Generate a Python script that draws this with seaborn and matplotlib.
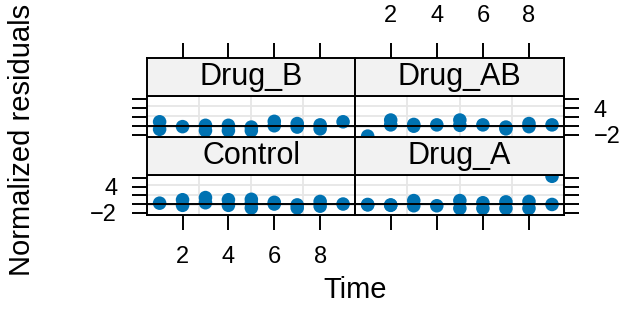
import matplotlib
matplotlib.use("Agg")
import matplotlib.pyplot as plt
import seaborn as sns
import pandas as pd

plt.rcParams['font.family'] = ['Liberation Sans', 'DejaVu Sans']

# ---- data ----
groups = ["Control", "Drug_A", "Drug_B", "Drug_AB"]
time_control = [1, 2, 2, 3, 3, 4, 4, 5, 5, 5, 6, 6, 7, 7, 8, 8, 9]
res_control = [0.2, 1.0, -0.3, 1.5, 0.3, 1.0, -0.3, 1.1, 0.2, -0.9, 0.4, 0.0, -0.2, -0.9, 0.6, -0.5, 0.0]
time_drug_a = [1, 1, 2, 2, 3, 3, 4, 5, 5, 6, 6, 7, 7, 8, 8, 9, 9]
res_drug_a = [-0.2, -0.1, -0.2, -0.3, 0.8, -0.4, -0.4, 0.8, -1.0, 0.3, -1.0, 0.5, -1.0, 0.6, -1.0, -0.1, 6.45]
time_drug_b = [1, 1, 2, 3, 3, 4, 4, 5, 5, 6, 6, 7, 7, 8, 8, 9]
res_drug_b = [0.9, -0.8, -0.2, 0.1, -1.1, 0.1, -1.1, -0.3, -1.1, 1.0, 0.0, 0.5, -0.3, 0.2, -0.7, 0.9]
time_drug_ab = [1, 2, 2, 3, 3, 4, 5, 5, 6, 7, 7, 8, 8, 9]
res_drug_ab = [-2.35, 1.3, 0.2, 0.3, -0.1, 0.2, 1.3, 0.1, 0.2, -0.3, -0.7, 0.5, -0.2, 0.2]

x_ticks = [2, 4, 6, 8]
y_ticks = [-2, 0, 2, 4, 6]
y_ticklabels = ["\u22122", "", "", "4", ""]

data = {
    "Control": (time_control, res_control),
    "Drug_A": (time_drug_a, res_drug_a),
    "Drug_B": (time_drug_b, res_drug_b),
    "Drug_AB": (time_drug_ab, res_drug_ab),
}

# ---- layout ----
W, H = 627, 321
fig = plt.figure(figsize=(W / 100, H / 100), dpi=100)


def rect(x0, y0, x1, y1):
    return [x0 / W, 1 - y1 / H, (x1 - x0) / W, (y1 - y0) / H]


cols = [(147, 355), (355, 564)]
rows = {"top": ((58, 96), (96, 137)), "bottom": ((137, 175), (175, 215))}
placement = {"Control": (0, "bottom"), "Drug_A": (1, "bottom"),
             "Drug_B": (0, "top"), "Drug_AB": (1, "top")}

XLIM = (0.45, 9.52)
YLIM = (-2.55, 6.75)
BLUE = "#0072B2"
LW = 1.4
TICKLEN = 10.5
TICKFS = 17

for g in groups:
    ci, ri = placement[g]
    x0, x1 = cols[ci]
    (s0, s1), (p0, p1) = rows[ri]

    # panel
    ax = fig.add_axes(rect(x0, p0, x1, p1))
    t, r = data[g]
    df = pd.DataFrame({"Time": t, "Residual": r})
    for k in range(1, 4):
        ax.axvline(XLIM[0] + k * (XLIM[1] - XLIM[0]) / 4, color="#E6E6E6", lw=1.3, zorder=0)
        ax.axhline(YLIM[0] + k * (YLIM[1] - YLIM[0]) / 4, color="#E6E6E6", lw=1.3, zorder=0)
    sns.scatterplot(data=df, x="Time", y="Residual", ax=ax, color=BLUE, s=95,
                    edgecolor="none", linewidth=0, legend=False, zorder=2)
    ax.axhline(0, color="black", lw=LW, zorder=3)
    ax.set_xlim(*XLIM)
    ax.set_ylim(*YLIM)
    ax.set_xlabel("")
    ax.set_ylabel("")
    for sp in ax.spines.values():
        sp.set_linewidth(LW)
        sp.set_zorder(4)

    # y ticks
    ax.set_yticks(y_ticks)
    if ci == 0:
        ax.tick_params(axis="y", left=True, right=False, labelleft=(ri == "bottom"),
                       labelright=False)
    else:
        ax.tick_params(axis="y", left=False, right=True, labelleft=False,
                       labelright=(ri == "top"))
    ax.set_yticklabels(y_ticklabels)
    ax.tick_params(axis="y", direction="out", length=TICKLEN, width=LW,
                   labelsize=TICKFS, pad=11)

    # x ticks
    ax.set_xticks(x_ticks)
    if ri == "bottom":
        ax.tick_params(axis="x", bottom=True, top=False,
                       labelbottom=(ci == 0), labeltop=False)
    else:
        ax.tick_params(axis="x", bottom=False, top=False,
                       labelbottom=False, labeltop=False)
    ax.tick_params(axis="x", direction="out", length=TICKLEN, width=LW,
                   labelsize=TICKFS, pad=12)

    # strip
    sx = fig.add_axes(rect(x0, s0, x1, s1))
    sx.set_facecolor("#F2F2F2")
    sx.set_xlim(*XLIM)
    sx.set_ylim(0, 1)
    sx.set_yticks([])
    sx.text(0.5, 0.5, g, transform=sx.transAxes, ha="center", va="center", fontsize=22)
    for sp in sx.spines.values():
        sp.set_linewidth(LW)
    if ri == "top":
        sx.set_xticks(x_ticks)
        sx.tick_params(axis="x", bottom=False, top=True, labelbottom=False,
                       labeltop=(ci == 1), direction="out", length=TICKLEN,
                       width=LW, labelsize=TICKFS, pad=12)
    else:
        sx.set_xticks([])

fig.text(355.5 / W, 1 - 290 / H, "Time", ha="center", va="center", fontsize=21)
fig.text(22 / W, 1 - 140 / H, "Normalized residuals", rotation=90,
         ha="center", va="center", fontsize=21)

fig.savefig("out.png", dpi=100)
